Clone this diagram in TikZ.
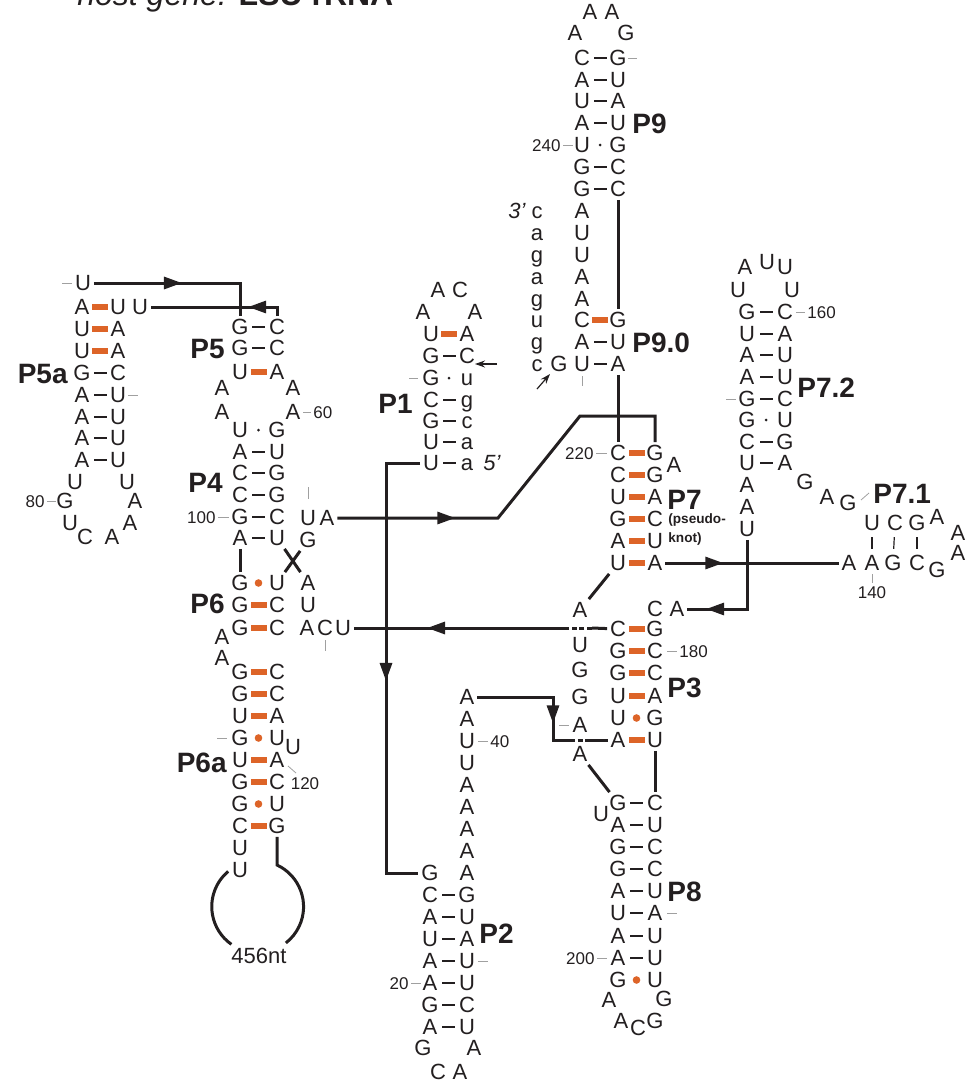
\documentclass[tikz,border=0pt]{standalone}
\usepackage{fontspec}
\setmainfont{Liberation Sans}
\usetikzlibrary{arrows.meta,decorations.markings}
\definecolor{ink}{RGB}{35,31,32}
\definecolor{orng}{RGB}{221,100,40}
\definecolor{tickgray}{RGB}{160,160,160}
\tikzset{
  nt/.style={font=\fontsize{11}{11}\selectfont, text=ink, inner sep=0pt, outer sep=1.5pt, text height=7.9pt, text depth=0pt},
  ntit/.style={nt, font=\fontsize{11}{11}\selectfont\itshape},
  lbl/.style={font=\fontsize{14}{14}\selectfont\bfseries, text=ink, inner sep=0pt, text height=10pt, text depth=0pt},
  knot/.style={font=\fontsize{6.8}{6.8}\selectfont\bfseries, text=ink, inner sep=0pt, anchor=west},
  num/.style={font=\fontsize{8.5}{8.5}\selectfont, text=ink, inner sep=0pt, text height=6.1pt, text depth=0pt},
  bpwc/.style={fill=ink, minimum width=6.5pt, minimum height=0.8pt, inner sep=0pt},
  bpbar/.style={fill=orng, minimum width=8pt, minimum height=2.6pt, inner sep=0pt},
  bpwob/.style={circle, fill=ink, minimum size=1.5pt, inner sep=0pt},
  bpdot/.style={circle, fill=orng, minimum size=3.8pt, inner sep=0pt},
  gtick/.style={draw=tickgray, line width=0.4pt},
  bb/.style={draw=ink, line width=1.5pt},
  xdots/.style={bb, dash pattern=on 2.6pt off 1.2pt},
  arrowat/.style={postaction={decorate}, decoration={markings, mark=at position #1 with {\arrow{Triangle[length=9pt,width=6pt]}}}},
  smallarrow/.style={draw=ink, line width=0.6pt, -{Stealth[length=5pt,width=3.5pt]}},
}
\begin{document}
\begin{tikzpicture}[x=0.5pt,y=-0.5pt]
\useasboundingbox (0,0) rectangle (975,1082);

% title, cut by the frame
\node[anchor=base west, inner sep=0pt, text=ink, font=\fontsize{16}{16}\selectfont] (title) at (77,5) {\textit{host gene:} \textbf{LSU rRNA}};

% ---------------- P5a ----------------
\node[nt] (p5aU) at (83,283) {U};
\draw[gtick] (62,283) -- (72,283);
\foreach \y/\l/\r/\s [count=\i] in {307/A/U/bpbar,329/U/A/bpbar,351/U/A/bpbar,373/G/C/bpwc,395/A/U/bpwc,417/A/U/bpwc,438/A/U/bpwc,460/A/U/bpwc}{
  \node[nt] (p5al\i) at (82,\y) {\l};
  \node[nt] (p5ar\i) at (118,\y) {\r};
  \node[\s] (p5ab\i) at (100,\y) {};
}
\node[nt] (p5aUU) at (140,307) {U};
\foreach \x/\y/\t [count=\i] in {75/482/U,65/501/G,70/523/U,85/537/C,112/537/A,130/523/A,135/501/A,127/482/U}
  \node[nt] (p5ah\i) at (\x,\y) {\t};
\draw[gtick] (128,395) -- (138,395);
\draw[gtick] (47,501) -- (56,501);
\node[num, anchor=east] (n80) at (45,501) {80};
\node[lbl, anchor=east] (lP5a) at (68,373) {P5a};

% ---------------- P5 / P4 ----------------
\foreach \y/\l/\r/\s [count=\i] in {327/G/C/bpwc,348/G/C/bpwc,372/U/A/bpbar}{
  \node[nt] (p5l\i) at (240,\y) {\l};
  \node[nt] (p5r\i) at (277,\y) {\r};
  \node[\s] (p5b\i) at (258.5,\y) {};
}
\foreach \x/\y/\t [count=\i] in {222/388/A,293/388/A,222/412/A,293/412/A}
  \node[nt] (p5h\i) at (\x,\y) {\t};
\draw[gtick] (303,412) -- (311,412);
\node[num, anchor=west] (n60) at (313,412) {60};
\node[lbl, anchor=east] (lP5) at (225,348) {P5};

\foreach \y/\l/\r/\s [count=\i] in {430/U/G/bpwob,452/A/U/bpwc,473/C/G/bpwc,495/C/G/bpwc,517/G/C/bpwc,538/A/U/bpwc}{
  \node[nt] (p4l\i) at (240,\y) {\l};
  \node[nt] (p4r\i) at (277,\y) {\r};
  \node[\s] (p4b\i) at (258.5,\y) {};
}
\node[nt] (p4U) at (308,518) {U};
\node[nt] (p4A) at (327,518) {A};
\node[nt] (p4G) at (308,540) {G};
\draw[gtick] (308,487) -- (308,499);
\node[num, anchor=east] (n100) at (216,517) {100};
\draw[gtick] (218,517) -- (229,517);
\node[lbl, anchor=east] (lP4) at (223,482) {P4};

% ---------------- P6 / P6a ----------------
\foreach \y/\l/\r/\s [count=\i] in {583/G/U/bpdot,605/G/C/bpbar,628/G/C/bpbar}{
  \node[nt] (p6l\i) at (240,\y) {\l};
  \node[nt] (p6r\i) at (277,\y) {\r};
  \node[\s] (p6b\i) at (258.5,\y) {};
}
\node[nt] (p6A1) at (308,583) {A};
\node[nt] (p6U1) at (308,605) {U};
\node[nt] (acuA) at (307,628) {A};
\node[nt] (acuC) at (325,628) {C};
\node[nt] (acuU) at (343,628) {U};
\draw[gtick] (325,640) -- (325,651);
\node[nt] (p6h1) at (222,637) {A};
\node[nt] (p6h2) at (222,658) {A};
\node[lbl, anchor=east] (lP6) at (225,603) {P6};

\foreach \y/\l/\r/\s [count=\i] in {672/G/C/bpbar,694/G/C/bpbar,716/U/A/bpbar,738/G/U/bpdot,760/U/A/bpbar,782/G/C/bpbar,804/G/U/bpdot,826/C/G/bpbar}{
  \node[nt] (p6al\i) at (240,\y) {\l};
  \node[nt] (p6ar\i) at (277,\y) {\r};
  \node[\s] (p6ab\i) at (258.5,\y) {};
}
\node[nt] (p6aU) at (293,747) {U};
\node[nt] (p6ab1u) at (240,848) {U};
\node[nt] (p6ab2u) at (240,870) {U};
\draw[gtick] (217,738) -- (227,738);
\draw[gtick] (288,766) -- (296,773);
\node[num] (n120) at (305,783) {120};
\node[lbl, anchor=east] (lP6a) at (227,762) {P6a};

% 456 nt loop
\coordinate (loopR) at (277,865);
\coordinate (loopL) at (228.2,871.4);
\draw[bb] (p6ar8) -- (loopR) arc[start angle=-65, end angle=52, radius=46];
\draw[bb] (loopL) arc[start angle=-130, end angle=-235, radius=46];
\node[nt] (ntloop) at (259,956) {456nt};

% ---------------- P1 ----------------
\foreach \x/\y/\t [count=\i] in {438/290/A,460/290/C,423/312/A,475/312/A}
  \node[nt] (p1h\i) at (\x,\y) {\t};
\foreach \y/\l/\r/\s [count=\i] in {334/U/A/bpbar,356/G/C/bpwc,378/G/u/bpwob,400/C/g/bpwc,421/G/c/bpwc,442/U/a/bpwc,463/U/a/bpwc}{
  \node[nt] (p1l\i) at (431,\y) {\l};
  \node[nt] (p1r\i) at (467,\y) {\r};
  \node[\s] (p1b\i) at (449,\y) {};
}
\draw[gtick] (409,378) -- (418,378);
\node[ntit] (five) at (492,463) {5’};
\node[lbl, anchor=east] (lP1) at (413,403) {P1};
\coordinate (arP1s) at (497,364);
\coordinate (arP1e) at (475,364);
\draw[smallarrow] (arP1s) -- (arP1e);

% ---------------- P9 / P9.0 ----------------
\foreach \x/\y/\t [count=\i] in {590/12/A,612/12/A,575/33/A,626/33/G}
  \node[nt] (p9h\i) at (\x,\y) {\t};
\foreach \y/\l/\r/\s [count=\i] in {58/C/G/bpwc,80/A/U/bpwc,101/U/A/bpwc,123/A/U/bpwc,145/U/G/bpwob,167/G/C/bpwc,189/G/C/bpwc}{
  \node[nt] (p9l\i) at (582,\y) {\l};
  \node[nt] (p9r\i) at (618,\y) {\r};
  \node[\s] (p9b\i) at (600,\y) {};
}
\draw[gtick] (628,58) -- (637,58);
\draw[gtick] (563,145) -- (573,145);
\node[num, anchor=east] (n240) at (561,145) {240};
\node[lbl, anchor=west] (lP9) at (632,123) {P9};
\foreach \y/\t [count=\i] in {211/A,233/U,255/U,277/A,299/A}
  \node[nt] (p9s\i) at (582,\y) {\t};
\foreach \y/\l/\r/\s [count=\i] in {320/C/G/bpbar,342/A/U/bpwc,364/U/A/bpwc}{
  \node[nt] (p90l\i) at (582,\y) {\l};
  \node[nt] (p90r\i) at (618,\y) {\r};
  \node[\s] (p90b\i) at (600,\y) {};
}
\draw[gtick] (582,376) -- (582,386);
\node[lbl, anchor=west] (lP90) at (632,342) {P9.0};
% 3' end
\node[ntit] (three) at (517,211) {3’};
\foreach \y/\t [count=\i] in {211/c,233/a,255/g,277/a,299/g,320/u,342/g,364/c}
  \node[nt] (p9t\i) at (537,\y) {\t};
\node[nt] (p9G) at (559,364) {G};
\coordinate (arP9s) at (537,389);
\coordinate (arP9e) at (550,374);
\draw[smallarrow] (arP9s) -- (arP9e);

% ---------------- P7 ----------------
\foreach \y/\l/\r/\s [count=\i] in {453/C/G/bpbar,475/C/G/bpbar,497/U/A/bpbar,519/G/C/bpbar,541/A/U/bpbar,563/U/A/bpbar}{
  \node[nt] (p7l\i) at (618,\y) {\l};
  \node[nt] (p7r\i) at (655,\y) {\r};
  \node[\s] (p7b\i) at (636.5,\y) {};
}
\node[nt] (p7A) at (674,465) {A};
\node[num, anchor=east] (n220) at (594,453) {220};
\draw[gtick] (596,453) -- (607,453);
\node[lbl, anchor=west] (lP7) at (667,499) {P7};
\node[knot] (pk1) at (668,520) {(pseudo-};
\node[knot] (pk2) at (668,539) {knot)};

% ---------------- P7.2 / P7.1 ----------------
\foreach \x/\y/\t [count=\i] in {738/290/U,745/267/A,767/262/U,785/267/U,792/290/U}
  \node[nt] (p72h\i) at (\x,\y) {\t};
\foreach \y/\l/\r/\s [count=\i] in {312/G/C/bpwc,334/U/A/bpwc,355/A/U/bpwc,377/A/U/bpwc,399/G/C/bpwc,420/G/U/bpwob,442/C/G/bpwc,463/U/A/bpwc}{
  \node[nt] (p72l\i) at (747,\y) {\l};
  \node[nt] (p72r\i) at (785,\y) {\r};
  \node[\s] (p72b\i) at (766,\y) {};
}
\foreach \y/\t [count=\i] in {485/A,507/A,529/U}
  \node[nt] (p72u\i) at (747,\y) {\t};
\foreach \x/\y/\t [count=\i] in {805/482/G,827/497/A,848/503/G}
  \node[nt] (p72j\i) at (\x,\y) {\t};
\draw[gtick] (796,312) -- (805,312);
\node[num, anchor=west] (n160) at (807,312) {160};
\draw[gtick] (726,399) -- (736,399);
\node[lbl, anchor=west] (lP72) at (797,387) {P7.2};
\draw[gtick] (861,500) -- (869,493);
\node[lbl, anchor=west] (lP71) at (873,493) {P7.1};

\foreach \x/\y/\t [count=\i] in {872/523/U,895/523/C,917/523/G,937/517/A,958/533/A,958/553/A,937/570/G}
  \node[nt] (p71t\i) at (\x,\y) {\t};
\foreach \x/\t [count=\i] in {849/A,872/A,893/G,917/C}
  \node[nt] (p71b\i) at (\x,563) {\t};
\draw[ink, line width=0.6pt, shorten <=1.6pt, shorten >=1.6pt] (p71t1) -- (p71b2);
\draw[ink, line width=0.6pt, shorten <=1.6pt, shorten >=1.6pt] (p71t2) -- (p71b3);
\draw[ink, line width=0.6pt, shorten <=1.6pt, shorten >=1.6pt] (p71t3) -- (p71b4);
\draw[gtick] (872,574) -- (872,583);
\node[num] (n140) at (872,592) {140};

% ---------------- P3 ----------------
\node[nt] (p3C) at (655,609) {C};
\node[nt] (p3A) at (677,609) {A};
\foreach \y/\l/\r/\s [count=\i] in {629/C/G/bpbar,651/G/C/bpbar,673/G/C/bpbar,696/U/A/bpbar,718/U/G/bpdot,740/A/U/bpbar}{
  \node[nt] (p3l\i) at (618,\y) {\l};
  \node[nt] (p3r\i) at (655,\y) {\r};
  \node[\s] (p3b\i) at (636.5,\y) {};
}
\foreach \y/\t [count=\i] in {610/A,645/U,670/G,697/G,725/A,754/A}
  \node[nt] (p3h\i) at (580,\y) {\t};
\draw[gtick] (559,725) -- (569,725);
\draw[gtick] (667,651) -- (677,651);
\node[num, anchor=west] (n180) at (679,651) {180};
\node[lbl, anchor=west] (lP3) at (667,687) {P3};

% ---------------- P8 ----------------
\foreach \y/\l/\r/\s [count=\i] in {803/G/C/bpwc,825/A/U/bpwc,847/G/C/bpwc,869/G/C/bpwc,891/A/U/bpwc,913/U/A/bpwc,936/A/U/bpwc,958/A/U/bpwc,980/G/U/bpdot}{
  \node[nt] (p8l\i) at (618,\y) {\l};
  \node[nt] (p8r\i) at (655,\y) {\r};
  \node[\s] (p8b\i) at (636.5,\y) {};
}
\node[nt] (p8U) at (601,814) {U};
\foreach \x/\y/\t [count=\i] in {609/1000/A,664/999/G,621/1021/A,638/1028/C,655/1021/G}
  \node[nt] (p8h\i) at (\x,\y) {\t};
\draw[gtick] (667,913) -- (677,913);
\node[num, anchor=east] (n200) at (595,958) {200};
\draw[gtick] (597,958) -- (607,958);
\node[lbl, anchor=west] (lP8) at (667,891) {P8};

% ---------------- P2 ----------------
\foreach \y/\t [count=\i] in {697/A,719/A,741/U,763/U,785/A,807/A,829/A,851/A,873/A}
  \node[nt] (p2t\i) at (467,\y) {\t};
\node[nt] (p2g) at (430,873) {G};
\foreach \y/\l/\r/\s [count=\i] in {895/C/G/bpwc,917/A/U/bpwc,939/U/A/bpwc,961/A/U/bpwc,983/A/U/bpwc,1005/G/C/bpwc,1027/A/U/bpwc}{
  \node[nt] (p2l\i) at (430,\y) {\l};
  \node[nt] (p2r\i) at (467,\y) {\r};
  \node[\s] (p2b\i) at (448.5,\y) {};
}
\foreach \x/\y/\t [count=\i] in {423/1048/G,474/1048/A,438/1072/C,460/1072/A}
  \node[nt] (p2h\i) at (\x,\y) {\t};
\draw[gtick] (478,741) -- (488,741);
\node[num, anchor=west] (n40) at (490,741) {40};
\draw[gtick] (478,961) -- (488,961);
\node[num, anchor=east] (n20) at (409,983) {20};
\draw[gtick] (411,983) -- (421,983);
\node[lbl, anchor=west] (lP2) at (479,933) {P2};

% ---------------- backbone ----------------
\draw[bb, arrowat=44pt] (p5aU) -- (p5aU -| p5l1) -- (p5l1);
\draw[bb, arrowat=19pt] (p5r1) -- (p5r1 |- p5aUU) -- (p5aUU);
\draw[bb] (p4l6) -- (p6l1);
\draw[bb] (p4r6) -- (p6A1);
\draw[bb] (p4G) -- (p6r1);

\coordinate (bendA) at (498,518);
\coordinate (bendB) at (580,416);
\draw[bb, arrowat=59pt] (p4A) -- (bendA) -- (bendB) -- (p7r1 |- bendB) -- (p7r1);
\draw[bb] (p9r7) -- (p90r1);
\draw[bb] (p90r3) -- (p7l1);

\draw[bb, arrowat=29pt] (p7r6) -- (p71b1);
\draw[bb, arrowat=55pt] (p72u3) -- (p72u3 |- p3A) -- (p3A);
\draw[bb] (p7l6) -- (p3h1);

\coordinate (xA1) at (592,628);
\coordinate (xA2) at (567,628);
\draw[bb] (p3l1) -- (xA1);
\draw[xdots] (xA1) -- (xA2);
\draw[bb, arrowat=70pt] (xA2) -- (acuU);

\coordinate (cnrP1a) at (386,463);
\coordinate (cnrP1b) at (386,873);
\draw[bb, arrowat=126pt] (p1l7) -- (cnrP1a) -- (cnrP1b) -- (p2g);

\coordinate (cnrP2a) at (553,697);
\coordinate (cnrP2b) at (553,740);
\coordinate (xB1) at (570,740);
\coordinate (xB2) at (590,740);
\draw[bb, arrowat=51pt] (p2t1) -- (cnrP2a) -- (cnrP2b) -- (xB1);
\draw[xdots] (xB1) -- (xB2);
\draw[bb] (xB2) -- (p3l6);

\draw[bb] (p3h6) -- (p8l1);
\draw[bb] (p3r6) -- (p8r1);
\end{tikzpicture}
\end{document}
